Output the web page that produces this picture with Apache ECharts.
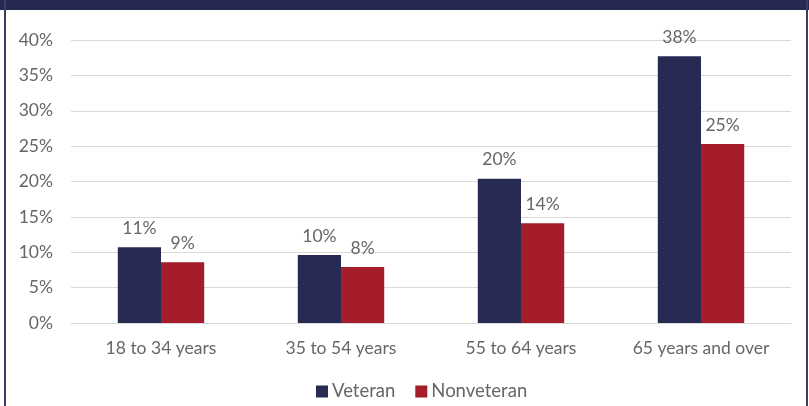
<!DOCTYPE html>
<html>
<head>
<meta charset="utf-8">
<script src="https://cdn.jsdelivr.net/npm/echarts@6/dist/echarts.min.js"></script>
<style>
  html, body { margin: 0; padding: 0; background: #ebe8ee; }
  #wrap { position: relative; width: 809px; height: 406px; overflow: hidden; }
  #chart { position: absolute; left: 0; top: 0; width: 809px; height: 406px; }
  .bar-top { position: absolute; left: 0; top: 0; width: 809px; height: 10px; background: #262a52; }
  .side { position: absolute; top: 0; bottom: 0; background: #3a3d63; }
</style>
</head>
<body>
<div id="wrap">
  <div id="chart"></div>
  <div class="bar-top"></div>
  <div class="side" style="left:4px;width:2px;"></div>
  <div class="side" style="left:806px;width:2px;"></div>
</div>
<script>
// categories
let ageGroups = ['18 to 34 years', '35 to 54 years', '55 to 64 years', '65 years and over'];
// percentages
let veteran = [10.7, 9.6, 20.4, 37.7];
let nonveteran = [8.6, 7.9, 14.1, 25.3];
let seriesNames = ['Veteran', 'Nonveteran'];

let textColor = '#666666';
let fontFamily = 'Lato, "Open Sans", sans-serif';
let fontSize = 17.5;

let myChart = echarts.init(document.getElementById('chart'));

let labelOpt = {
  show: true,
  position: 'top',
  distance: 10,
  color: textColor,
  fontSize: fontSize,
  fontFamily: fontFamily,
  formatter: function(p) {
    return Math.round(p.value) + '%';
  }
};

let option = {
  backgroundColor: '#ffffff',
  animation: false,
  color: ['#272a52', '#a51c2a'],
  grid: {
    left: 71,
    right: 18,
    top: 40,
    bottom: 83
  },
  legend: {
    data: seriesNames,
    top: 377,
    left: 311,
    itemWidth: 12,
    itemHeight: 12,
    itemGap: 20,
    icon: 'rect',
    textStyle: {
      color: textColor,
      fontSize: 18.5,
      fontFamily: fontFamily,
      padding: [0, 0, 0, -1]
    }
  },
  xAxis: {
    type: 'category',
    data: ageGroups,
    axisTick: { show: false },
    axisLine: { lineStyle: { color: '#d9d9d9', width: 1 } },
    axisLabel: {
      color: textColor,
      fontSize: fontSize,
      fontFamily: fontFamily,
      margin: 16
    }
  },
  yAxis: {
    type: 'value',
    min: 0,
    max: 40,
    interval: 5,
    axisLine: { show: false },
    axisTick: { show: false },
    splitLine: { lineStyle: { color: '#d9d9d9', width: 1 } },
    axisLabel: {
      color: textColor,
      fontSize: fontSize,
      fontFamily: fontFamily,
      margin: 18,
      formatter: '{value}%'
    }
  },
  series: [
    {
      name: seriesNames[0],
      type: 'bar',
      data: veteran,
      barGap: '0%',
      barCategoryGap: '52%',
      label: labelOpt
    },
    {
      name: seriesNames[1],
      type: 'bar',
      data: nonveteran,
      barGap: '0%',
      barCategoryGap: '52%',
      label: labelOpt
    }
  ]
};

myChart.setOption(option);
</script>
</body>
</html>
